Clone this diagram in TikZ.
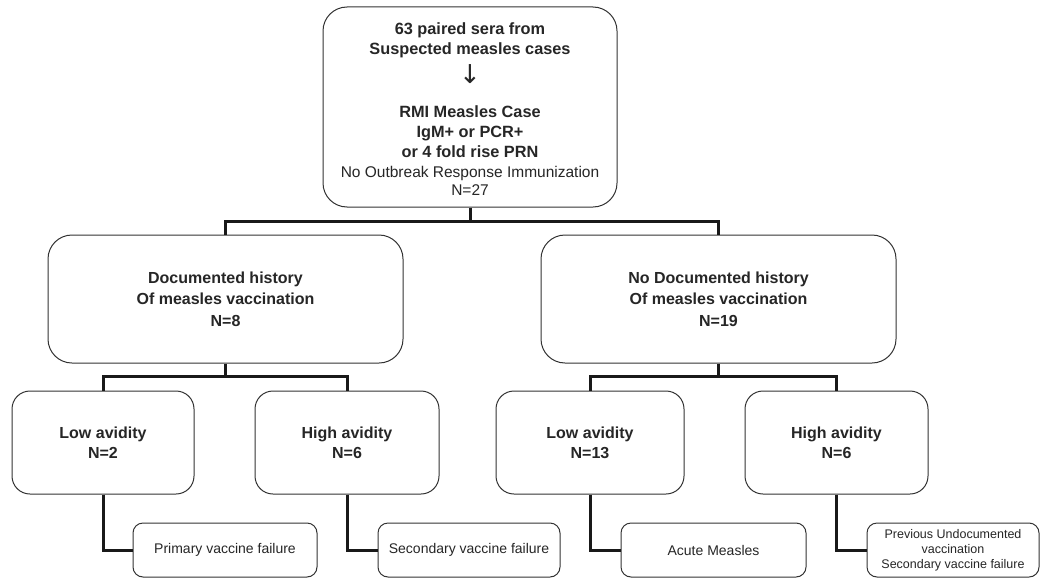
\documentclass[tikz,border=0pt]{standalone}
\usepackage{fontspec}
\setmainfont{Liberation Sans}
\newfontfamily\arrowfont{DejaVu Sans}
\begin{document}
\begin{tikzpicture}[x=1pt,y=-1pt,
  box/.style={draw=black!80, line width=1pt, rounded corners=#1, fill=white, inner sep=0pt, align=center, text=black!85},
  box/.default=20pt,
  conn/.style={line width=3pt, black!90},
  topbf/.style={font=\fontsize{16.3}{20}\selectfont\bfseries},
  bigbf/.style={font=\fontsize{16}{20}\selectfont\bfseries},
  midbf/.style={font=\fontsize{16}{21.5}\selectfont\bfseries},
  restxt/.style={font=\fontsize{14}{17}\selectfont},
  smalltxt/.style={font=\fontsize{12.5}{15}\selectfont},
]
\useasboundingbox (0,0) rectangle (1040,578);

% top box
\node[box=24pt, topbf, minimum width=294pt, minimum height=200pt] (top) at (470,107)
  {\rule{0pt}{16pt}63 paired sera from\\ Suspected measles cases\\[5pt]
   {\mdseries\arrowfont\fontsize{26}{20}\selectfont ↓}\\[14pt]
   RMI Measles Case\\ IgM+ or PCR+\\ or 4 fold rise PRN\\
   {\mdseries\fontsize{15.5}{19}\selectfont No Outbreak Response Immunization}\\[-2pt]
   {\mdseries\fontsize{15.5}{19}\selectfont N=27}};

% middle boxes
\node[box=24pt, midbf, minimum width=355pt, minimum height=128pt] (ml) at (225.5,299)
  {Documented history\\ Of measles vaccination\\ N=8};
\node[box=24pt, midbf, minimum width=355pt, minimum height=128pt] (mr) at (718.5,299)
  {No Documented history\\ Of measles vaccination\\ N=19};

% avidity boxes
\node[box=18pt, bigbf, minimum width=182pt, minimum height=103pt] (la1) at (103,442.5) {Low avidity\\ N=2};
\node[box=18pt, bigbf, minimum width=184pt, minimum height=103pt] (ha1) at (347,442.5) {High avidity\\ N=6};
\node[box=18pt, bigbf, minimum width=188pt, minimum height=103pt] (la2) at (590,442.5) {Low avidity\\ N=13};
\node[box=18pt, bigbf, minimum width=183pt, minimum height=103pt] (ha2) at (836.5,442.5) {High avidity\\ N=6};

% result boxes
\node[box=10pt, restxt, minimum width=184pt, minimum height=54pt] (r1) at (225,550) {Primary vaccine failure};
\node[box=10pt, restxt, minimum width=182pt, minimum height=54pt] (r2) at (469,550) {Secondary vaccine failure};
\node[box=10pt, restxt, minimum width=185pt, minimum height=54pt] (r3) at (713.5,550) {Acute Measles};
\node[box=10pt, smalltxt, minimum width=172pt, minimum height=54pt] (r4) at (953,550)
  {Previous Undocumented\\ vaccination\\ Secondary vaccine failure};

% connectors
\coordinate (j1) at (470,221);
\coordinate (j2) at (225.5,376);
\coordinate (j3) at (718.5,376);
\draw[conn] (top.south) -- (j1);
\draw[conn] (ml.north) |- (j1);
\draw[conn] (mr.north) |- (j1);
\draw[conn] (ml.south) -- (j2);
\draw[conn] (la1.north) |- (j2);
\draw[conn] (ha1.north) |- (j2);
\draw[conn] (mr.south) -- (j3);
\draw[conn] (la2.north) |- (j3);
\draw[conn] (ha2.north) |- (j3);
\draw[conn] (la1.south) |- (r1.west);
\draw[conn] (ha1.south) |- (r2.west);
\draw[conn] (la2.south) |- (r3.west);
\draw[conn] (ha2.south) |- (r4.west);
\end{tikzpicture}
\end{document}
